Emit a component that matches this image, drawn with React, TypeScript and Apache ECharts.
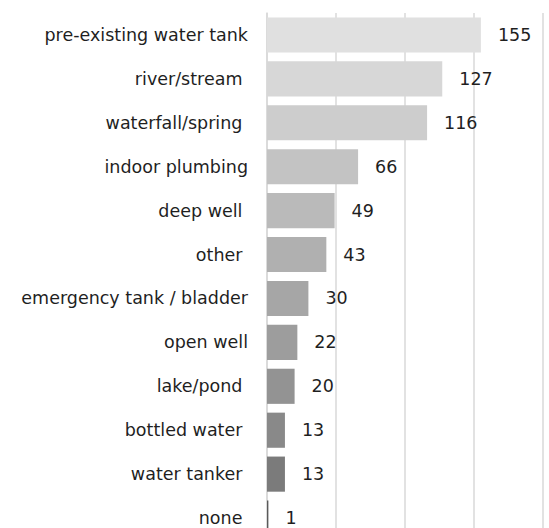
import React, { useEffect, useRef } from "react";
import * as echarts from "echarts";

const categories = [
  "pre-existing water tank",
  "river/stream ",
  "waterfall/spring ",
  "indoor plumbing",
  "deep well ",
  "other ",
  "emergency tank / bladder",
  "open well",
  "lake/pond ",
  "bottled water ",
  "water tanker ",
  "none ",
];
const values = [155, 127, 116, 66, 49, 43, 30, 22, 20, 13, 13, 1];
const barColors = [
  "#e0e0e0", "#d7d7d7", "#cdcdcd", "#c3c3c3", "#bababa", "#b0b0b0",
  "#a6a6a6", "#9d9d9d", "#939393", "#898989", "#7b7b7b", "#5a5a5a",
];
const xTicks = [0, 50, 100, 150, 200];

export default function App() {
  const ref = useRef<HTMLDivElement>(null);
  useEffect(() => {
    if (!ref.current) return;
    const chart = echarts.init(ref.current, null, { renderer: "svg" });
    chart.setOption({
      animation: false,
      grid: { left: 267, right: 6, top: 13, bottom: 0, containLabel: false },
      xAxis: {
        type: "value",
        min: xTicks[0],
        max: xTicks[xTicks.length - 1],
        interval: 50,
        axisLabel: { show: false },
        axisLine: { show: false },
        axisTick: { show: false },
        splitLine: { show: true, lineStyle: { color: "#d9d9d9", width: 1.5 } },
      },
      yAxis: {
        type: "category",
        inverse: true,
        data: categories,
        axisTick: { show: false },
        axisLine: { show: true, lineStyle: { color: "#d9d9d9", width: 1.5 } },
        axisLabel: {
          margin: 19,
          color: "#1f1f1f",
          fontFamily: "DejaVu Sans",
          fontSize: 17.5,
        },
      },
      series: [
        {
          type: "bar",
          barCategoryGap: "20%",
          data: values.map((v, i) => ({ value: v, itemStyle: { color: barColors[i] } })),
          label: {
            show: true,
            position: "right",
            distance: 17,
            color: "#1f1f1f",
            fontFamily: "DejaVu Sans",
            fontSize: 17.5,
          },
        },
      ],
    });
    return () => chart.dispose();
  }, []);
  return (
    <div
      ref={ref}
      style={{ position: "absolute", left: 0, top: 0, width: 549, height: 540 }}
    />
  );
}
